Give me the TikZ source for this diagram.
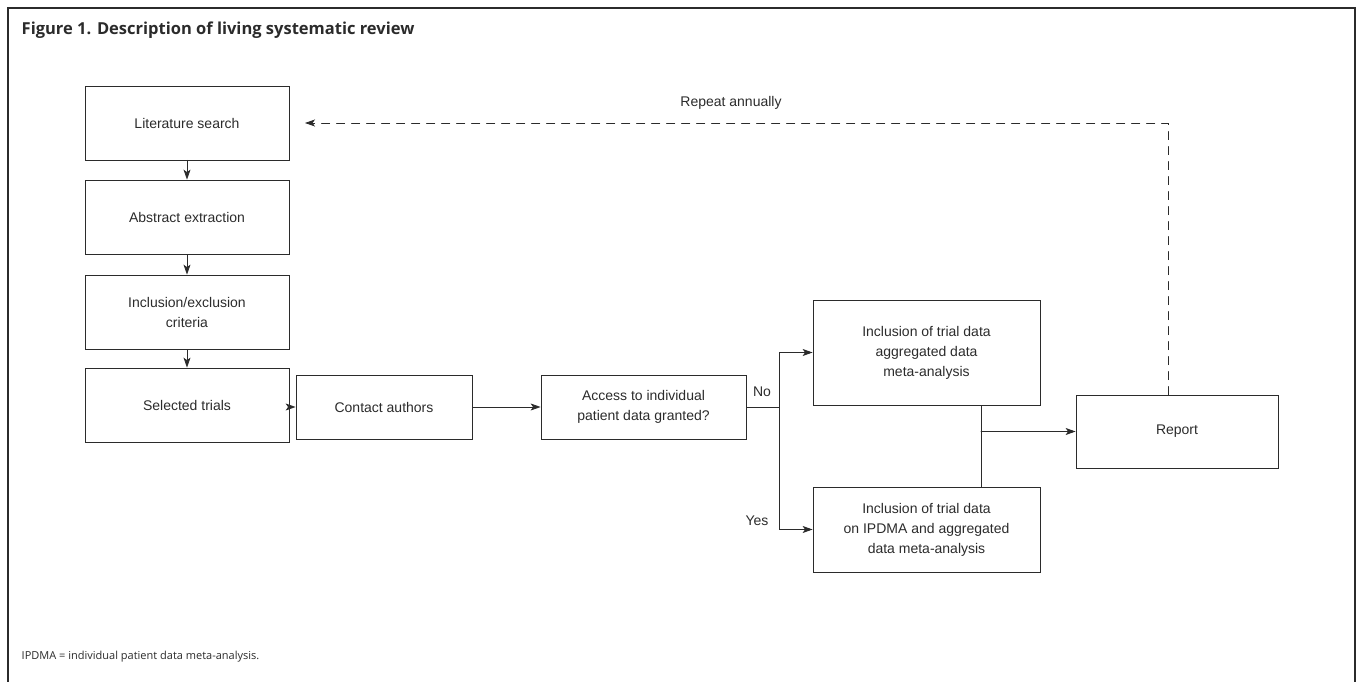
\documentclass[tikz,border=0pt]{standalone}
\usepackage{fontspec}
\setmainfont{Liberation Sans}
\newfontfamily\capfont{Open Sans}
\usetikzlibrary{arrows.meta}
\definecolor{ink}{HTML}{2B2B2B}

\begin{document}
\begin{tikzpicture}[>={Stealth[length=10pt,width=7pt,inset=2.5pt]},x=1pt,y=-1pt,line cap=round,color=ink,
				line width=0.8pt,
				box/.style={draw,align=center,inner sep=2pt,
					font=\fontsize{14}{20}\selectfont},
				lbl/.style={font=\fontsize{14}{16}\selectfont}]
				\useasboundingbox (0,0) rectangle (1361,682);
				% frame, heading and footnote
				\draw[line width=1.3pt] (8,682) -- (8,8) -- (1355,8) -- (1355,682);
				\node[anchor=west,font=\capfont\bfseries\fontsize{16.5}{19}\selectfont] (title) at (18,30) {Figure 1. Description of living systematic review};
				\node[anchor=west,font=\capfont\fontsize{11}{13}\selectfont] (note) at (18,657) {IPDMA = individual patient data meta-analysis.};
				% left column
				\foreach \T/\Y [count=\N] in {{Literature search}/123,{Abstract extraction}/217,{Inclusion/exclusion\\criteria}/312,{Selected trials}/405}
				{\node[box,minimum width=204pt,minimum height=74pt] (s\N) at (187,\Y) {\T};}
				\foreach \N [evaluate=\N as \M using int(\N+1)] in {1,2,3}
				{\draw[->] (s\N) -- (s\M);}
				% bottom row
				\node[box,minimum width=176pt,minimum height=64pt] (contact) at (384,407) {Contact authors};
				\node[box,minimum width=205pt,minimum height=64pt] (access) at (643.5,407) {Access to individual\\patient data granted?};
				\node[box,minimum width=227pt,minimum height=105pt] (agg) at (926.5,352.5) {Inclusion of trial data\\aggregated data\\meta-analysis};
				\node[box,minimum width=227pt,minimum height=85pt] (ipd) at (926.5,529.5) {Inclusion of trial data\\on IPDMA and aggregated\\data meta-analysis};
				\node[box,minimum width=202pt,minimum height=73pt] (report) at (1177,431.5) {Report};
				\draw[->] (s4.east |- contact.west) -- (contact);
				\draw[->] (contact) -- (access);
				% split after the question
				\coordinate (split) at (779,407);
				\draw (access.east) -- (split);
				\draw[->] (split) |- (agg.west);
				\draw[->] (split) |- (ipd.west);
				\node[lbl] (no) at (762,392) {No};
				\node[lbl] (yes) at (757,521) {Yes};
				% join into the report
				\coordinate (joinA) at (981,405);
				\coordinate (joinB) at (981,487);
				\coordinate (join) at (981,431.5);
				\draw (agg.south -| joinA) -- (ipd.north -| joinB);
				\draw[->] (join) -- (report);
				% yearly loop back
				\coordinate (turn) at (1168,123);
				\coordinate (back) at (305,123);
				\draw[->,dash pattern=on 8pt off 7pt] (report.north -| turn) -- (turn) -- (back);
				\node[lbl] (repeat) at (731,103) {Repeat annually};
			\end{tikzpicture}
\end{document}
